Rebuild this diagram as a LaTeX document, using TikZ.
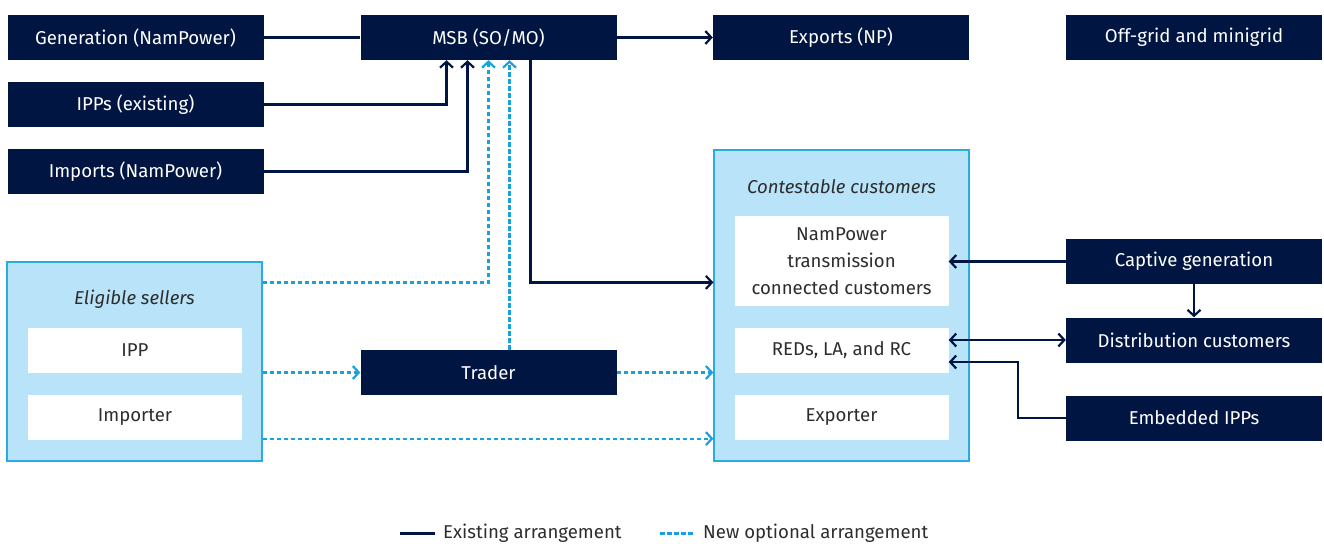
\documentclass[tikz,border=0pt]{standalone}
\usepackage{fontspec}
\setmainfont{Fira Sans}
\usetikzlibrary{arrows.meta}
\definecolor{navy}{RGB}{0,21,66}
\definecolor{paleblue}{RGB}{185,227,248}
\definecolor{edgeblue}{RGB}{41,170,225}
\definecolor{dashblue}{RGB}{26,160,220}
\definecolor{inktext}{RGB}{45,45,45}
\begin{document}
\begin{tikzpicture}[x=1pt, y=-1pt,
    every node/.style={font=\fontsize{18.6}{27}\selectfont},
    darkbox/.style={fill=navy, text=white, rectangle, minimum width=256pt, minimum height=45pt, inner sep=0pt},
    groupbox/.style={fill=paleblue, draw=edgeblue, line width=1.2pt, rectangle, inner sep=0pt},
    whitebox/.style={fill=white, text=inktext, rectangle, minimum width=214pt, minimum height=45pt, inner sep=0pt, align=center},
    existing/.style={draw=navy, line width=2.2pt},
    optional/.style={draw=dashblue, line width=2.2pt, dash pattern=on 4.5pt off 2.5pt},
    tip/.style={-{Straight Barb[length=6pt,width=13pt,line width=2.2pt]}},
    twotip/.style={{Straight Barb[length=6pt,width=13pt,line width=2.2pt]}-{Straight Barb[length=6pt,width=13pt,line width=2.2pt]}}]
    \useasboundingbox (0,0) rectangle (1324,543);
    % Nodes
    \node (gen) [darkbox] at (135.5,37.5) {Generation (NamPower)};
    \node (msb) [darkbox] at (488.5,37.5) {MSB (SO/MO)};
    \node (exports) [darkbox] at (841,37.5) {Exports (NP)};
    \node (offgrid) [darkbox] at (1194,37.5) {Off-grid and minigrid};
    \node (ipps) [darkbox] at (135.5,104.5) {IPPs (existing)};
    \node (imports) [darkbox] at (135.5,171.5) {Imports (NamPower)};
    \node (contest) [groupbox, minimum width=255pt, minimum height=311pt] at (841.5,305.5) {};
    \node (contesttitle) [text=inktext] at (841.5,187) {\itshape Contestable customers};
    \node (namp) [whitebox, minimum height=90pt] at (841.5,261) {NamPower\\transmission\\connected customers};
    \node (reds) [whitebox] at (841.5,350.5) {REDs, LA, and RC};
    \node (exporter) [whitebox] at (841.5,417.5) {Exporter};
    \node (captive) [darkbox] at (1194,261.5) {Captive generation};
    \node (distrib) [darkbox] at (1194,340) {Distribution customers};
    \node (embedded) [darkbox] at (1194,418) {Embedded IPPs};
    \node (eligible) [groupbox, minimum width=255pt, minimum height=199pt] at (134.5,361.5) {};
    \node (eligtitle) [text=inktext] at (134.5,299) {\itshape Eligible sellers};
    \node (ipp) [whitebox] at (135,350.5) {IPP};
    \node (importer) [whitebox] at (135,417.5) {Importer};
    \node (trader) [darkbox] at (488.5,372.5) {Trader};
    % Legend
    \coordinate (lega) at (400,533);
    \node (legexist) [anchor=west, text=inktext, inner sep=0pt] at (443,533) {Existing arrangement};
    \coordinate (legb) at (660,533);
    \node (legnew) [anchor=west, text=inktext, inner sep=0pt] at (703,533) {New optional arrangement};
    % Arrows
    \draw[existing] (gen) -- (msb);
    \draw[existing, tip] (msb) -- (exports);
    \draw[existing, tip] (ipps.east) -| ([xshift=-42pt]msb.south);
    \draw[existing, tip] (imports.east) -| ([xshift=-21pt]msb.south);
    \draw[existing, tip] ([xshift=42pt]msb.south) |- ([yshift=-133pt]contest.north west);
    \draw[optional, tip] ([yshift=-21pt]eligible.north east) -| (msb.south);
    \draw[optional, tip] ([xshift=21pt]trader.north) -- ([xshift=21pt]trader.north |- msb.south);
    \draw[optional, tip] (eligible.east |- trader) -- (trader.west);
    \draw[optional, tip] (trader.east) -- (contest.west |- trader);
    \draw[optional, tip] ([yshift=23pt]eligible.south east) -- ([yshift=23pt]contest.south west);
    \draw[existing, tip] (captive.west) -- (captive.west -| namp.east);
    \draw[existing, tip] (captive) -- (distrib);
    \draw[existing, twotip] (distrib.west) -- (distrib.west -| reds.east);
    \draw[existing, tip] (embedded.west) -- ++(-48,0) |- ([yshift=-11.5pt]reds.east);
    \draw[existing, line width=3pt] (lega) -- ++(35,0);
    \draw[optional, line width=3pt] (legb) -- ++(35,0);
  \end{tikzpicture}
\end{document}
